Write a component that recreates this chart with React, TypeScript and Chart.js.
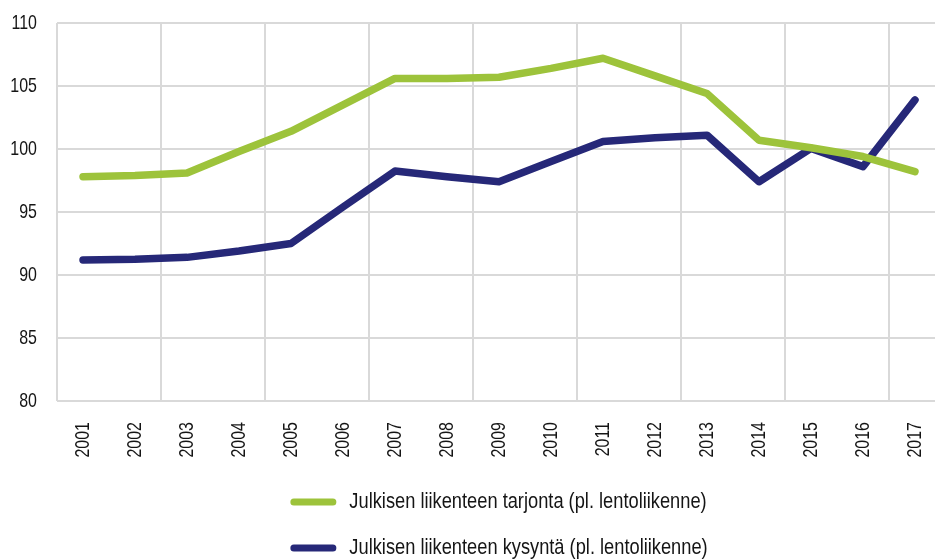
import React, { useEffect, useRef } from "react";
import { Chart, registerables } from "chart.js";

Chart.register(...registerables);

const years = ["2001", "2002", "2003", "2004", "2005", "2006", "2007", "2008", "2009", "2010", "2011", "2012", "2013", "2014", "2015", "2016", "2017"];
const tarjonta = [97.8, 97.9, 98.1, 99.8, 101.4, 103.5, 105.6, 105.6, 105.7, 106.4, 107.2, 105.8, 104.4, 100.7, 100.1, 99.4, 98.2];
const kysynta = [91.2, 91.25, 91.4, 91.9, 92.5, 95.4, 98.25, 97.8, 97.4, 99.0, 100.6, 100.9, 101.1, 97.4, 100.05, 98.6, 103.9];
const seriesLabels = ["Julkisen liikenteen tarjonta (pl. lentoliikenne)", "Julkisen liikenteen kysyntä (pl. lentoliikenne)"];
const seriesColors = ["#9dc33b", "#262878"];
const yMin = 80;
const yMax = 110;
const yStep = 5;

const FONT = '"Liberation Sans", Arial, sans-serif';
const SX = 0.76; // horizontal squeeze to mimic a condensed face
const LEGEND_SX = 0.83;
const GRID = "#d9d9d9";
const TEXT = "#151515";

function condensedText(
  ctx: CanvasRenderingContext2D,
  text: string,
  x: number,
  y: number,
  align: CanvasTextAlign,
  size: number,
  rotate = 0,
  sx = SX
) {
  ctx.save();
  ctx.translate(x, y);
  if (rotate) ctx.rotate(rotate);
  ctx.scale(sx, 1);
  ctx.font = `${size}px ${FONT}`;
  ctx.fillStyle = TEXT;
  ctx.textAlign = align;
  ctx.textBaseline = "middle";
  ctx.fillText(text, 0, 0);
  ctx.restore();
}

const labelsPlugin = {
  id: "condensedLabels",
  afterDraw(chart: any) {
    const ctx = chart.ctx as CanvasRenderingContext2D;
    const area = chart.chartArea;
    const ys = chart.scales.y;
    const xs = chart.scales.x;
    // y tick labels
    ys.ticks.forEach((t: any) => {
      condensedText(ctx, String(t.value), area.left - 20, ys.getPixelForValue(t.value) + 0.5, "right", 21);
    });
    // x tick labels, rotated
    (chart.data.labels as string[]).forEach((lab, i) => {
      condensedText(ctx, lab, xs.getPixelForTick(i), area.bottom + 21, "right", 21, -Math.PI / 2);
    });
    // legend, one item per row
    const lineLen = 46;
    const gap = 13;
    const size = 22;
    ctx.save();
    ctx.font = `${size}px ${FONT}`;
    const items = chart.data.datasets.map((d: any) => ({ label: d.label, color: d.borderColor }));
    const widths = items.map((it: any) => lineLen + gap + ctx.measureText(it.label).width * LEGEND_SX);
    ctx.restore();
    const maxW = Math.max(...widths);
    const x0 = (area.left + area.right) / 2 - maxW / 2;
    items.forEach((it: any, i: number) => {
      const y = area.bottom + 101 + i * 46;
      ctx.save();
      ctx.strokeStyle = it.color;
      ctx.lineWidth = 7;
      ctx.lineCap = "round";
      ctx.beginPath();
      ctx.moveTo(x0 + 3.5, y);
      ctx.lineTo(x0 + lineLen - 3.5, y);
      ctx.stroke();
      ctx.restore();
      condensedText(ctx, it.label, x0 + lineLen + gap, y, "left", size, 0, LEGEND_SX);
    });
  },
};

export default function App() {
  const ref = useRef<HTMLCanvasElement | null>(null);

  useEffect(() => {
    if (!ref.current) return;
    const chart = new Chart(ref.current, {
      type: "line",
      data: {
        labels: years,
        datasets: [
          {
            label: seriesLabels[0],
            data: tarjonta,
            borderColor: seriesColors[0],
            backgroundColor: seriesColors[0],
            borderWidth: 7.5,
            borderCapStyle: "round",
            borderJoinStyle: "round",
            pointRadius: 0,
            tension: 0,
          },
          {
            label: seriesLabels[1],
            data: kysynta,
            borderColor: seriesColors[1],
            backgroundColor: seriesColors[1],
            borderWidth: 7.5,
            borderCapStyle: "round",
            borderJoinStyle: "round",
            pointRadius: 0,
            tension: 0,
          },
        ],
      },
      options: {
        responsive: false,
        animation: false,
        layout: { padding: { left: 57, top: 23, right: 0, bottom: 158 } },
        plugins: { legend: { display: false }, tooltip: { enabled: false } },
        scales: {
          x: {
            offset: true,
            border: { display: false },
            grid: {
              offset: true,
              drawTicks: false,
              lineWidth: 2,
              color: (c: any) => (c.index % 2 === 0 ? GRID : "rgba(0,0,0,0)"),
            },
            ticks: { display: false, autoSkip: false },
          },
          y: {
            min: yMin,
            max: yMax,
            border: { display: false },
            grid: { drawTicks: false, lineWidth: 2, color: GRID },
            ticks: { display: false, stepSize: yStep },
          },
        },
      },
      plugins: [labelsPlugin],
    });
    return () => chart.destroy();
  }, []);

  return (
    <div style={{ position: "fixed", left: 0, top: 0, width: 935, height: 559, overflow: "hidden", background: "#fff" }}>
      <canvas ref={ref} width={941} height={559} style={{ width: 941, height: 559, display: "block" }} />
    </div>
  );
}
